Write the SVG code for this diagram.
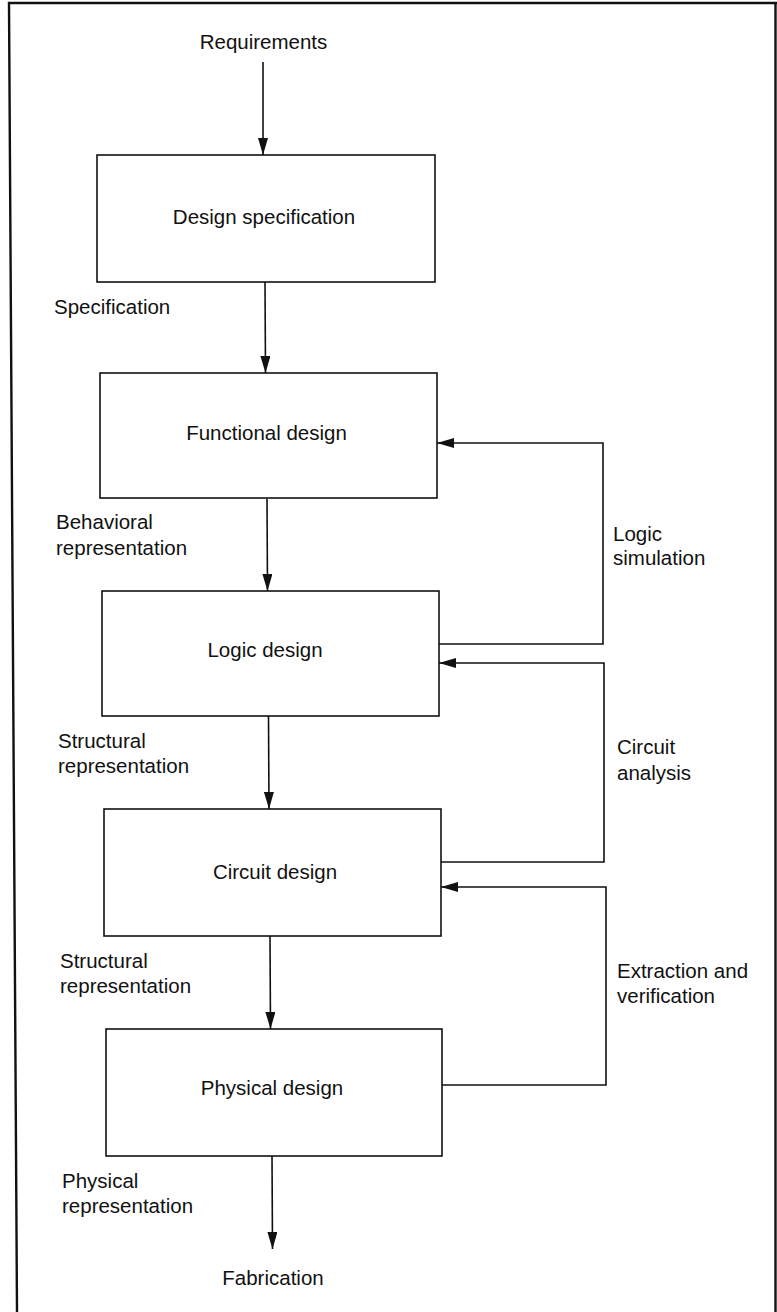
<svg xmlns="http://www.w3.org/2000/svg" width="777" height="1312" viewBox="0 0 777 1312">
<style>
.box{fill:#fff;stroke:#111;stroke-width:1.6}
.lbl{font-family:"Liberation Sans",Arial,sans-serif;font-size:20.5px;fill:#111}
.mid{text-anchor:middle}
.con{fill:none;stroke:#111;stroke-width:1.6}
.frame{fill:none;stroke:#111;stroke-width:2.4}
</style>
<defs>
<marker id="ah" markerUnits="userSpaceOnUse" markerWidth="17" markerHeight="10" refX="17" refY="5" orient="auto">
<path d="M0,0 L17,5 L0,10 z" fill="#111"/>
</marker>
</defs>
<rect width="777" height="1312" fill="#fff"/>
<path class="frame" d="M17,1312 L9,3 L777,3 M775.5,3 L775.5,1312"/>

<g id="connectors">
<line class="con" x1="263" y1="62" x2="263" y2="155" marker-end="url(#ah)"/>
<line class="con" x1="265" y1="282" x2="265.5" y2="373" marker-end="url(#ah)"/>
<line class="con" x1="267" y1="499" x2="267.5" y2="591" marker-end="url(#ah)"/>
<line class="con" x1="268.5" y1="716" x2="269" y2="809" marker-end="url(#ah)"/>
<line class="con" x1="270" y1="936" x2="270.5" y2="1029" marker-end="url(#ah)"/>
<line class="con" x1="272" y1="1156" x2="272.5" y2="1249" marker-end="url(#ah)"/>
<polyline class="con" points="439,644 603,644 603,443 437,443" marker-end="url(#ah)"/>
<polyline class="con" points="441,862 604,862 604,663 439,663" marker-end="url(#ah)"/>
<polyline class="con" points="442,1085 606,1085 606,887 441,887" marker-end="url(#ah)"/>
</g>

<g id="requirements"><text class="lbl mid" x="263.5" y="49">Requirements</text></g>

<g id="design-specification">
<rect class="box" x="97" y="155" width="338" height="127"/>
<text class="lbl mid" x="264" y="224">Design specification</text>
</g>
<g id="functional-design">
<rect class="box" x="100" y="373" width="337" height="125"/>
<text class="lbl mid" x="266.5" y="440">Functional design</text>
</g>
<g id="logic-design">
<rect class="box" x="102" y="591" width="337" height="125"/>
<text class="lbl mid" x="265" y="657">Logic design</text>
</g>
<g id="circuit-design">
<rect class="box" x="104" y="809" width="337" height="127"/>
<text class="lbl mid" x="275" y="879">Circuit design</text>
</g>
<g id="physical-design">
<rect class="box" x="106" y="1029" width="336" height="127"/>
<text class="lbl mid" x="272" y="1095">Physical design</text>
</g>
<g id="fabrication"><text class="lbl mid" x="273" y="1285">Fabrication</text></g>

<g id="edge-labels">
<text class="lbl" x="54" y="314">Specification</text>
<text class="lbl" x="56" y="529">Behavioral</text>
<text class="lbl" x="56" y="555">representation</text>
<text class="lbl" x="58" y="748">Structural</text>
<text class="lbl" x="58" y="773">representation</text>
<text class="lbl" x="60" y="968">Structural</text>
<text class="lbl" x="60" y="993">representation</text>
<text class="lbl" x="62" y="1188">Physical</text>
<text class="lbl" x="62" y="1213">representation</text>
<text class="lbl" x="613" y="541">Logic</text>
<text class="lbl" x="613" y="565">simulation</text>
<text class="lbl" x="617" y="754">Circuit</text>
<text class="lbl" x="617" y="780">analysis</text>
<text class="lbl" x="617" y="978">Extraction and</text>
<text class="lbl" x="617" y="1003">verification</text>
</g>
</svg>
